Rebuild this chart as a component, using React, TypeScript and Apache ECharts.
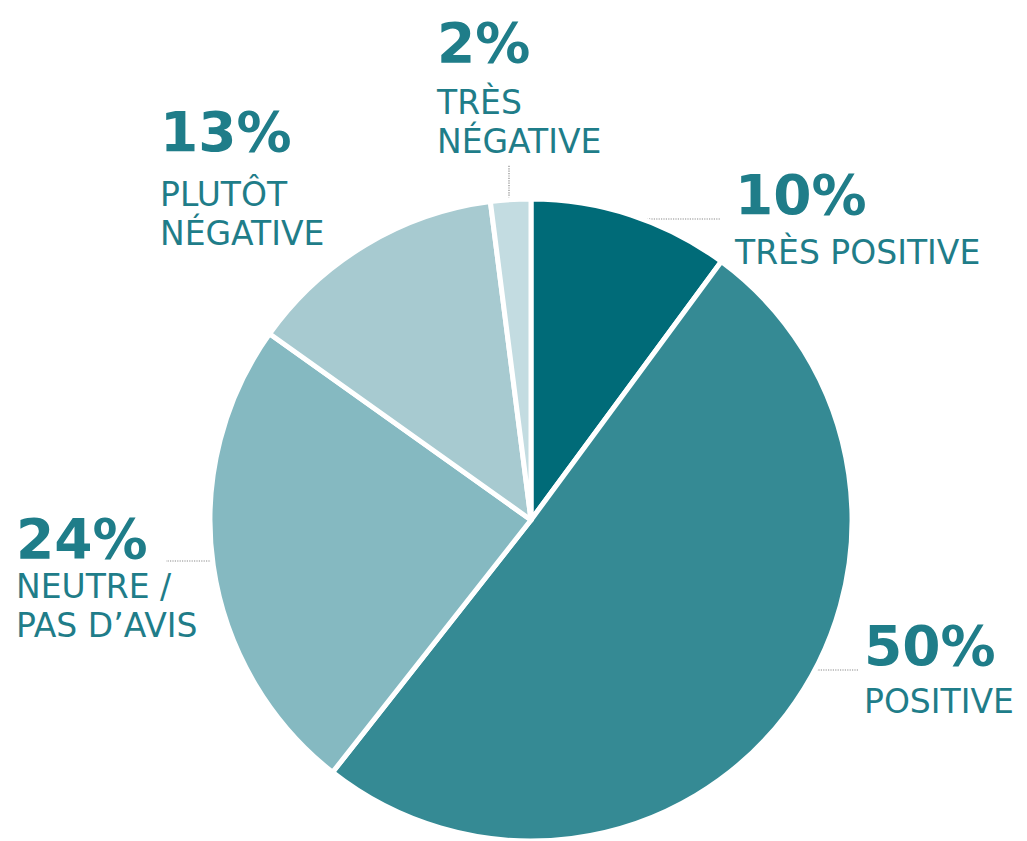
import React, { useEffect, useRef } from "react";
import * as echarts from "echarts";

const categories = ["TRÈS POSITIVE", "POSITIVE", "NEUTRE /\nPAS D’AVIS", "PLUTÔT\nNÉGATIVE", "TRÈS\nNÉGATIVE"];
const values = [10, 50, 24, 13, 2];
const colors = ["#006B78", "#358A94", "#85B9C1", "#A7CAD0", "#C3DCE1"];

// label anchor positions (top-left of each label block) and leader lines
const labelPos: [number, number][] = [
  [735, 157],
  [864, 609],
  [16, 510],
  [160, 88],
  [437, 3],
];
const pctLineHeights = [76, 73, 57, 87, 80];
const leaderLines: ([number, number][] | null)[] = [
  [[637, 219], [678, 219], [720, 219]],
  [[816, 670], [836, 670], [858, 670]],
  [[212, 561], [190, 561], [166, 561]],
  null,
  [[509, 203], [509, 185], [509, 165]],
];

const TEXT = "#1F7D89";
const makeRich = (plh: number) => ({
  p: { fontFamily: "DejaVu Sans", fontWeight: "bold", fontSize: 55, lineHeight: plh, color: TEXT },
  n: { fontFamily: "DejaVu Sans", fontWeight: "normal", fontSize: 33, lineHeight: 39, color: TEXT },
});

export default function App() {
  const ref = useRef<HTMLDivElement>(null);
  useEffect(() => {
    const chart = echarts.init(ref.current!, undefined, { renderer: "svg" });
    chart.setOption({
      animation: false,
      backgroundColor: "#ffffff",
      series: [
        {
          type: "pie",
          center: [531, 520],
          radius: 321,
          startAngle: 90,
          clockwise: true,
          avoidLabelOverlap: false,
          itemStyle: { borderColor: "#ffffff", borderWidth: 5 },
          data: values.map((v, i) => ({
            value: v,
            name: categories[i],
            itemStyle: { color: colors[i] },
            label: { rich: makeRich(pctLineHeights[i]) },
            labelLine: { show: leaderLines[i] !== null },
          })),
          label: {
            show: true,
            position: "outside",
            formatter: (p: any) => `{p|${p.value}%}\n{n|${p.name.split("\n").join("}\n{n|")}}`,
            rich: makeRich(70),
            align: "left",
          },
          labelLine: {
            show: true,
            lineStyle: { type: "dotted", color: "#8a8a8a", width: 1.2 },
          },
          labelLayout: (params: any) => {
            const i = params.dataIndex;
            const res: any = {
              x: labelPos[i][0],
              y: labelPos[i][1],
              align: "left",
              verticalAlign: "top",
            };
            if (leaderLines[i]) res.labelLinePoints = leaderLines[i];
            return res;
          },
        },
      ],
    });
    return () => chart.dispose();
  }, []);
  return (
    <div
      ref={ref}
      style={{ position: "fixed", left: 0, top: 0, width: 1027, height: 841 }}
    />
  );
}
